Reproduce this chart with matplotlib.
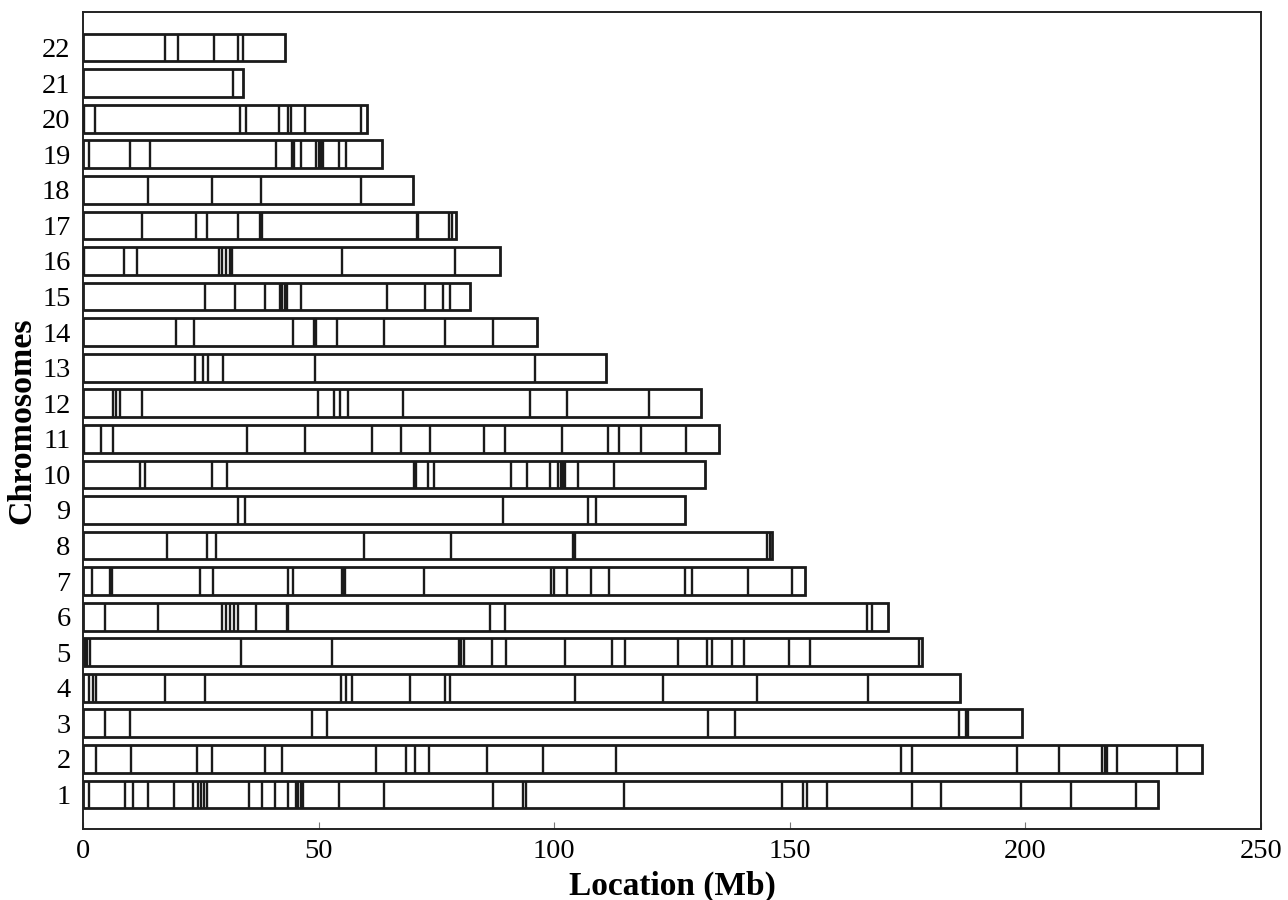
import matplotlib
matplotlib.use('Agg')
import matplotlib.pyplot as plt

# chromosome lengths (Mb)
chroms = list(range(1, 23))
lengths = [228.2, 237.4, 199.3, 186.2, 178.1, 170.9, 153.3, 146.3, 127.8, 132.1, 135.0,
           131.1, 110.9, 96.4, 82.1, 88.6, 79.1, 70.0, 63.5, 60.3, 33.9, 42.9]

# segment boundaries inside each chromosome (Mb)
breaks = [
    [1.3, 8.9, 10.7, 13.8, 19.3, 23.4, 24.3, 25.0, 25.7, 26.4, 35.3, 38.0, 40.8, 43.6,
     45.2, 45.7, 46.2, 46.6, 54.3, 63.8, 87.1, 93.4, 94.1, 114.8, 148.3, 152.9, 153.6,
     158.0, 175.9, 182.1, 199.0, 209.6, 223.4],
    [2.7, 10.1, 24.1, 27.3, 38.6, 42.2, 62.2, 68.5, 70.4, 73.4, 85.7, 97.6, 113.1, 173.5,
     175.9, 198.3, 207.1, 216.3, 216.8, 217.4, 219.5, 232.1],
    [4.7, 9.9, 48.5, 51.8, 132.7, 138.3, 185.9, 187.3, 187.8],
    [1.3, 2.1, 2.7, 17.4, 25.9, 54.8, 55.8, 57.1, 69.3, 76.9, 77.9, 104.4, 123.0, 143.0, 166.7],
    [0.4, 0.9, 1.5, 33.5, 52.8, 79.7, 80.3, 80.9, 86.7, 89.8, 102.2, 112.2, 115.1, 126.3,
     132.4, 133.4, 137.8, 140.2, 149.9, 154.3, 177.5],
    [4.7, 16.0, 29.6, 30.4, 31.2, 32.0, 32.8, 36.7, 43.2, 43.5, 86.3, 89.5, 166.4, 167.4],
    [2.0, 5.8, 6.1, 24.9, 27.6, 43.4, 44.5, 54.9, 55.3, 55.6, 72.3, 99.4, 99.9, 102.7,
     107.9, 111.6, 127.8, 129.2, 141.1, 150.4],
    [17.9, 26.3, 28.2, 59.6, 78.0, 104.0, 104.4, 145.2, 145.8],
    [33.0, 34.4, 89.1, 107.2, 108.8],
    [12.1, 13.2, 27.4, 30.5, 70.2, 70.6, 73.2, 74.5, 90.8, 94.3, 99.1, 100.9, 101.4, 101.9,
     102.3, 105.1, 112.7],
    [0.3, 3.8, 6.4, 34.9, 47.2, 61.3, 67.4, 73.6, 85.0, 89.5, 101.7, 111.5, 113.8, 118.5, 127.9],
    [6.4, 6.9, 7.9, 12.6, 49.8, 53.2, 54.6, 56.2, 67.9, 94.8, 102.8, 120.2],
    [23.8, 25.5, 26.6, 29.8, 49.2, 96.0],
    [19.7, 23.6, 44.6, 49.0, 49.4, 53.9, 63.8, 76.9, 87.0],
    [25.9, 32.2, 38.6, 41.8, 42.3, 42.8, 43.3, 46.3, 64.5, 72.6, 76.4, 77.8],
    [0.3, 8.6, 11.4, 28.8, 29.6, 30.3, 31.2, 31.7, 54.9, 79.0],
    [12.6, 23.9, 26.4, 32.8, 37.6, 38.0, 70.8, 71.1, 77.7, 78.4],
    [13.7, 27.3, 37.8, 58.9],
    [1.3, 9.9, 14.2, 41.0, 44.3, 44.7, 46.3, 49.5, 50.0, 50.5, 51.0, 54.3, 55.8],
    [0.3, 2.5, 33.4, 34.6, 41.5, 43.6, 44.1, 47.1, 58.9],
    [31.9],
    [17.4, 20.1, 27.8, 33.0, 33.9],
]

xticks = [0, 50, 100, 150, 200, 250]

plt.rcParams['font.family'] = ['Liberation Serif', 'DejaVu Serif']

fig = plt.figure(figsize=(12.88, 9), dpi=100)
ax = fig.add_axes([83 / 1288, 1 - 829 / 900, (1261 - 83) / 1288, (829 - 12) / 900])

h = 0.78
ax.barh(chroms, lengths, height=h, left=0, color='white', edgecolor='#1a1a1a',
        linewidth=2.0, zorder=2)
for c, b in zip(chroms, breaks):
    ax.vlines(b, c - h / 2, c + h / 2, color='#1a1a1a', linewidth=1.7, zorder=3)

ax.set_xlim(0, 250)
ax.set_ylim(0.03, 23.0)
ax.set_xticks(xticks)
ax.set_yticks(chroms)
ax.set_yticklabels([str(c) for c in chroms])
ax.tick_params(axis='x', direction='in', length=5, width=0.8, color='#777777',
               labelsize=20.5, pad=7)
ax.tick_params(axis='y', length=0, labelsize=20.5, pad=9)
for s in ax.spines.values():
    s.set_linewidth(1.4)
    s.set_color('#222222')

ax.set_xlabel('Location (Mb)', fontsize=24, fontweight='bold', labelpad=5)
ax.set_ylabel('Chromosomes', fontsize=24.5, fontweight='bold', labelpad=3)

fig.savefig('out.png', dpi=100)
